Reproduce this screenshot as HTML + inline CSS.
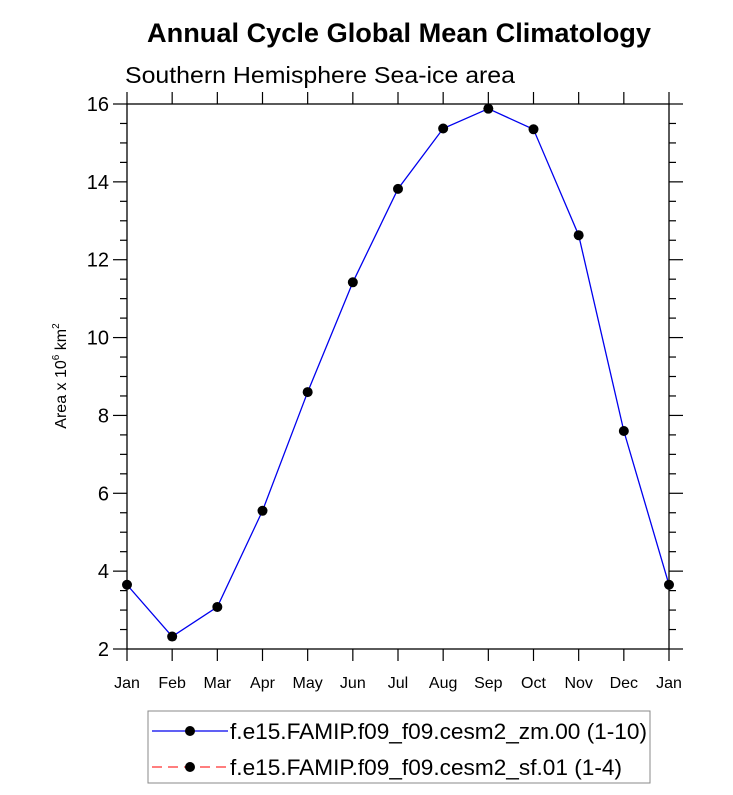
<!DOCTYPE html>
<html><head><meta charset="utf-8"><style>
body{margin:0;background:#fff;}
svg text{font-family:"Liberation Sans",Arial,sans-serif;}
</style></head><body>
<svg id="c" width="733" height="790" xmlns="http://www.w3.org/2000/svg">
<text x="147" y="42" font-size="27" font-weight="bold" textLength="504" lengthAdjust="spacingAndGlyphs">Annual Cycle Global Mean Climatology</text>
<text x="125" y="83" font-size="23" textLength="390" lengthAdjust="spacingAndGlyphs">Southern Hemisphere Sea-ice area</text>
<text transform="translate(66,376) rotate(-90)" text-anchor="middle" font-size="16">Area x 10<tspan font-size="10" dy="-7">6</tspan><tspan dy="7"> km</tspan><tspan font-size="10" dy="-7">2</tspan></text>
<g id="axes"></g>
<g id="series"></g>
<g>
<rect x="148" y="711" width="502" height="72" fill="none" stroke="#888" stroke-width="1"/>
<g>
<line x1="152" y1="731" x2="228" y2="731" stroke="#0000ee" stroke-width="1.3"/>
<circle cx="190" cy="731" r="5" fill="#000"/>
<text x="230" y="739" font-size="22" textLength="417" lengthAdjust="spacingAndGlyphs">f.e15.FAMIP.f09_f09.cesm2_zm.00 (1-10)</text>
</g>
<g>
<line x1="152" y1="767" x2="228" y2="767" stroke="#ff3030" stroke-width="1.3" stroke-dasharray="10,6"/>
<circle cx="190" cy="767" r="5" fill="#000"/>
<text x="230" y="775" font-size="22" textLength="392" lengthAdjust="spacingAndGlyphs">f.e15.FAMIP.f09_f09.cesm2_sf.01 (1-4)</text>
</g>
</g>
</svg>
<script>
const months=["Jan","Feb","Mar","Apr","May","Jun","Jul","Aug","Sep","Oct","Nov","Dec","Jan"];
const seaIceZm=[3.65,2.32,3.08,5.55,8.6,11.42,13.82,15.37,15.88,15.35,12.63,7.6,3.65];
const yTicks=[2,4,6,8,10,12,14,16];
const NS="http://www.w3.org/2000/svg";
const L=127,R=669,T=104,B=649,ymin=2,ymax=16;
const xs=i=>L+(R-L)*i/(months.length-1);
const ys=v=>B-(v-ymin)/(ymax-ymin)*(B-T);
function mk(tag,a,p){const e=document.createElementNS(NS,tag);for(const k in a)e.setAttribute(k,a[k]);p.appendChild(e);return e;}
const ax=document.getElementById('axes');
const fr=mk('rect',{x:L,y:T,width:R-L,height:B-T,fill:'none',stroke:'#000','stroke-width':1.3},ax);


months.forEach((m,i)=>{const x=xs(i);
mk('line',{x1:x,y1:B,x2:x,y2:B+12,stroke:'#000','stroke-width':1.2},ax);
mk('line',{x1:x,y1:T,x2:x,y2:T-12,stroke:'#000','stroke-width':1.2},ax);
const t=mk('text',{x:x,y:B+39,'text-anchor':'middle','font-size':16},ax);t.textContent=m;

});
for(let v=ymin;v<=ymax+1e-9;v+=0.5){const y=ys(v);const maj=Math.abs(v%2)<1e-9;const len=maj?14:7;
mk('line',{x1:L-len,y1:y,x2:L,y2:y,stroke:'#000','stroke-width':1.2},ax);
mk('line',{x1:R,y1:y,x2:R+len,y2:y,stroke:'#000','stroke-width':1.2},ax);}
yTicks.forEach(v=>{const t=mk('text',{x:L-18,y:ys(v)+7,'text-anchor':'end','font-size':20},ax);t.textContent=v;

});
const sg=document.getElementById('series');
const pl=mk('polyline',{points:seaIceZm.map((v,i)=>xs(i)+','+ys(v)).join(' '),fill:'none',stroke:'#0000ee','stroke-width':1.3},sg);


seaIceZm.forEach((v,i)=>{const c=mk('circle',{cx:xs(i),cy:ys(v),r:5,fill:'#000'},sg);

});
</script>
</body></html>
